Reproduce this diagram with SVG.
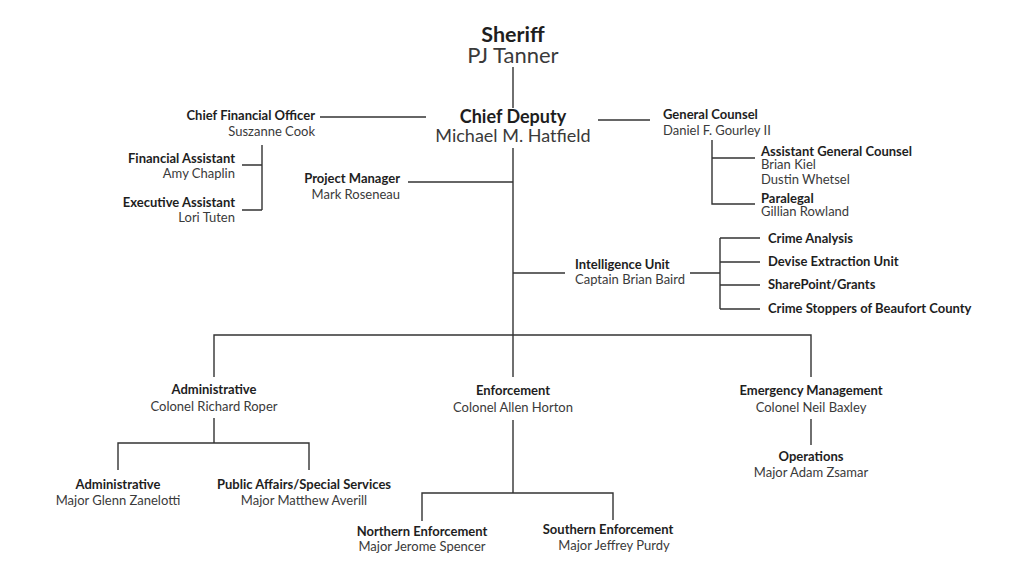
<svg xmlns="http://www.w3.org/2000/svg" width="1024" height="576" viewBox="0 0 1024 576">
<style>
text{font-family:Lato,"Open Sans","Liberation Sans",sans-serif;fill:#2b2b2b}
.b{font-weight:bold;font-size:13px;fill:#1e1e1e}
.r{font-size:13px;fill:#3a3a3a}
.tb{font-weight:bold;font-size:21.5px;fill:#1e1e1e}
.tr{font-size:22px;fill:#3a3a3a}
.mb{font-weight:bold;font-size:18px;fill:#1e1e1e}
.mr{font-size:18px;fill:#3a3a3a}
.c{text-anchor:middle}
.e{text-anchor:end}
#connectors path{fill:none;stroke:#333;stroke-width:1.4}
</style>
<rect width="1024" height="576" fill="#fff"/>
<g id="connectors">
<path d="M513 67V108"/>
<path d="M320 117H426"/>
<path d="M598 120H650"/>
<path d="M513 148V335"/>
<path d="M262 145V210M242 165H262M242 210H262"/>
<path d="M408 182H513"/>
<path d="M712 140V204H755M712 158H755"/>
<path d="M513 273H565"/>
<path d="M690 273H720M720 238V309M720 238H760M720 262H760M720 285H760M720 309H760"/>
<path d="M214 377V335H811V377M513 335V377"/>
<path d="M214 418V443M118 470V443H309V470"/>
<path d="M513 420V493M422 521V493H613V520"/>
<path d="M811 419V445"/>
</g>
<g id="sheriff"><text class="tb c" x="513" y="42">Sheriff</text><text class="tr c" x="513" y="63">PJ Tanner</text></g>
<g id="chief-deputy"><text class="mb c" x="513" y="123">Chief Deputy</text><text class="mr c" x="513" y="142">Michael M. Hatfield</text></g>
<g id="cfo"><text class="b e" x="315" y="120">Chief Financial Officer</text><text class="r e" x="315" y="136">Suszanne Cook</text></g>
<g id="financial-assistant"><text class="b e" x="235" y="163">Financial Assistant</text><text class="r e" x="235" y="178">Amy Chaplin</text></g>
<g id="executive-assistant"><text class="b e" x="235" y="207">Executive Assistant</text><text class="r e" x="235" y="222">Lori Tuten</text></g>
<g id="project-manager"><text class="b e" x="400" y="183">Project Manager</text><text class="r e" x="400" y="199">Mark Roseneau</text></g>
<g id="general-counsel"><text class="b" x="663" y="119">General Counsel</text><text class="r" x="663" y="135">Daniel F. Gourley II</text></g>
<g id="assistant-general-counsel"><text class="b" x="761" y="156">Assistant General Counsel</text><text class="r" x="761" y="169">Brian Kiel</text><text class="r" x="761" y="184">Dustin Whetsel</text></g>
<g id="paralegal"><text class="b" x="761" y="203">Paralegal</text><text class="r" x="761" y="216">Gillian Rowland</text></g>
<g id="intelligence-unit"><text class="b" x="575" y="269">Intelligence Unit</text><text class="r" x="575" y="284">Captain Brian Baird</text></g>
<g id="crime-analysis"><text class="b" x="768" y="243">Crime Analysis</text></g>
<g id="devise-extraction"><text class="b" x="768" y="266">Devise Extraction Unit</text></g>
<g id="sharepoint"><text class="b" x="768" y="289">SharePoint/Grants</text></g>
<g id="crime-stoppers"><text class="b" x="768" y="313">Crime Stoppers of Beaufort County</text></g>
<g id="administrative"><text class="b c" x="214" y="394">Administrative</text><text class="r c" x="214" y="411">Colonel Richard Roper</text></g>
<g id="administrative-major"><text class="b c" x="118" y="489">Administrative</text><text class="r c" x="118" y="505">Major Glenn Zanelotti</text></g>
<g id="public-affairs"><text class="b c" x="304" y="489">Public Affairs/Special Services</text><text class="r c" x="304" y="505">Major Matthew Averill</text></g>
<g id="enforcement"><text class="b c" x="513" y="395">Enforcement</text><text class="r c" x="513" y="412">Colonel Allen Horton</text></g>
<g id="northern"><text class="b c" x="422" y="536">Northern Enforcement</text><text class="r c" x="422" y="551">Major Jerome Spencer</text></g>
<g id="southern"><text class="b c" x="608" y="534">Southern Enforcement</text><text class="r c" x="614" y="550">Major Jeffrey Purdy</text></g>
<g id="emergency"><text class="b c" x="811" y="395">Emergency Management</text><text class="r c" x="811" y="412">Colonel Neil Baxley</text></g>
<g id="operations"><text class="b c" x="811" y="461">Operations</text><text class="r c" x="811" y="477">Major Adam Zsamar</text></g>
</svg>
